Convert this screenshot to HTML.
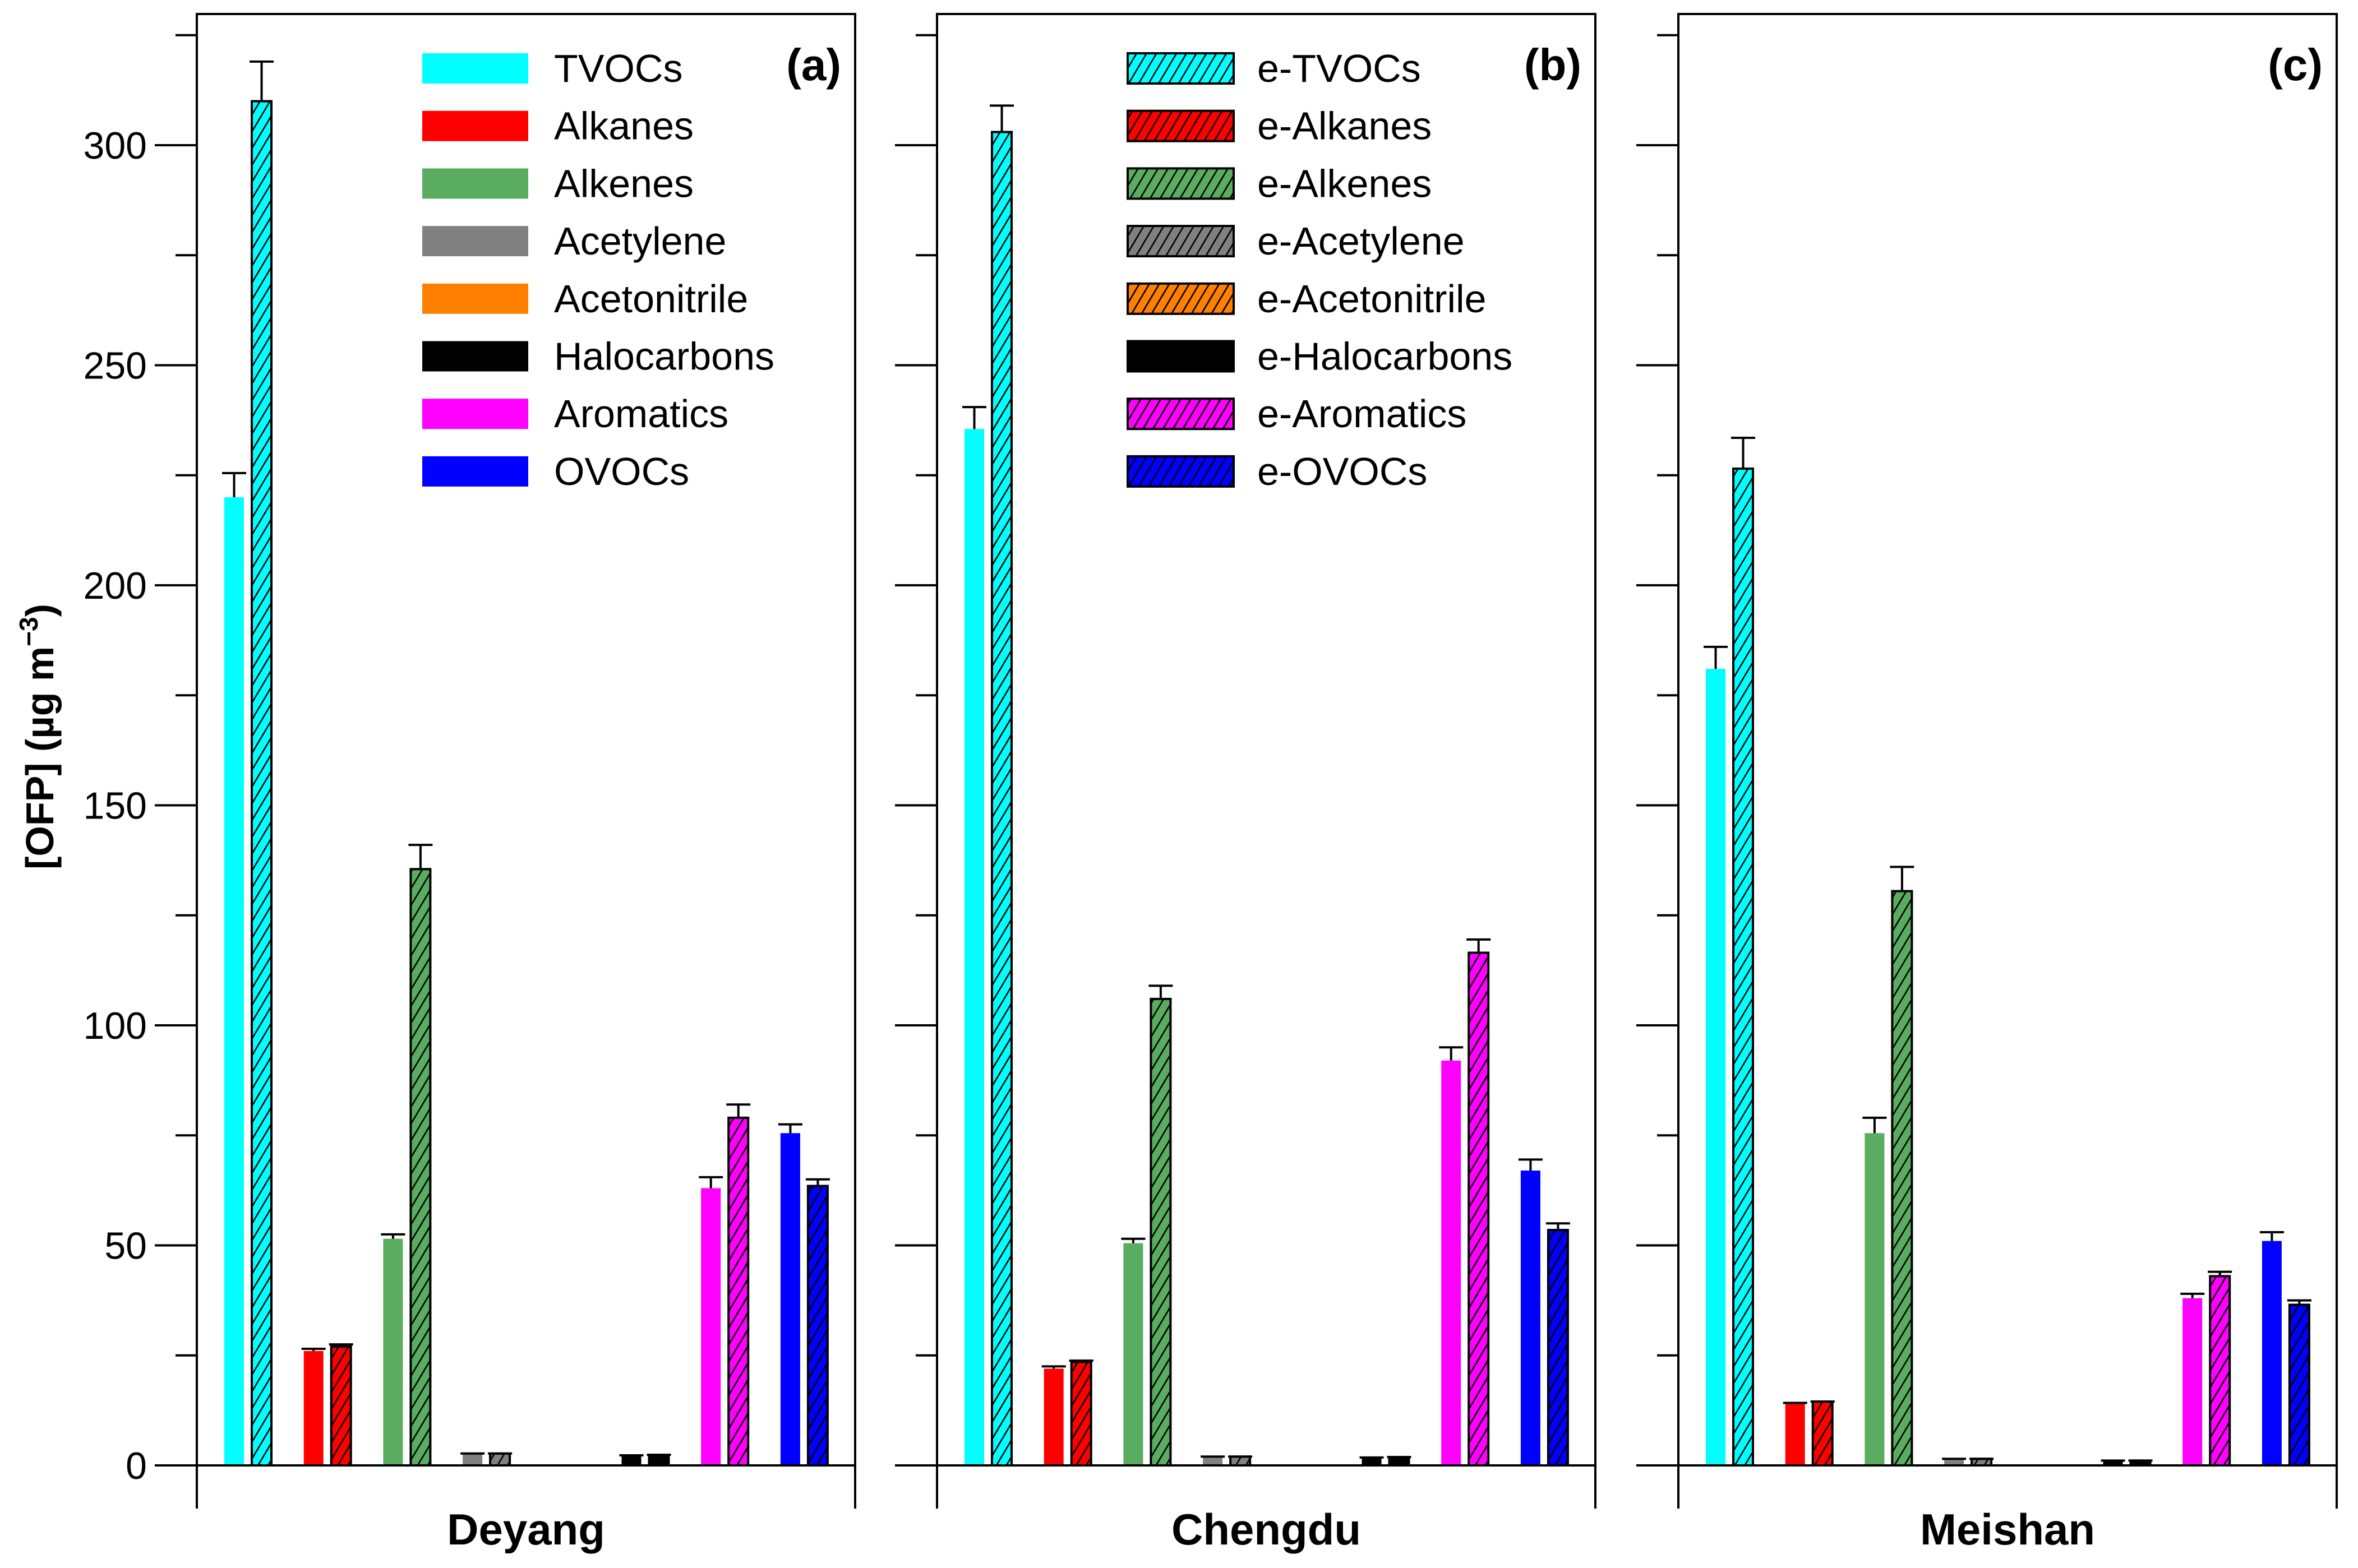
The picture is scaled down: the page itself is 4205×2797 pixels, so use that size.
<!DOCTYPE html>
<html><head><meta charset="utf-8"><style>
html,body{margin:0;padding:0;background:#fff}
svg{display:block}
text{font-family:"Liberation Sans",Arial,sans-serif}
</style></head><body>
<svg id="chart" xmlns="http://www.w3.org/2000/svg" width="4205" height="2797" viewBox="0 0 4205 2797">
<defs>
<pattern id="hatch" patternUnits="userSpaceOnUse" width="15.3" height="15.3" patternTransform="rotate(30.7)">
<line x1="1" y1="0" x2="1" y2="15.3" stroke="#000" stroke-width="3.2"/>
</pattern>
</defs>
<text transform="translate(95,1314) rotate(-90)" text-anchor="middle" font-weight="bold" font-size="70">[OFP] (µg m<tspan font-size="46" dy="-28">−3</tspan><tspan dy="28">)</tspan></text>
</svg>
<script>
const categories = ["TVOCs","Alkanes","Alkenes","Acetylene","Acetonitrile","Halocarbons","Aromatics","OVOCs"];
const colors = ["#00ffff","#ff0000","#5aad60","#808080","#ff8000","#000000","#ff00ff","#0000ff"];
const sites = ["Deyang","Chengdu","Meishan"];
const panelTags = ["(a)","(b)","(c)"];
const yTicks = [0,50,100,150,200,250,300];
// solid (measured) values and errors
const deyangVal = [220,26,51.5,2.7,0,2.3,63,75.5];
const deyangErr = [5.5,0.5,1,0,0,0,2.5,2];
const deyangEVal = [310,27,135.5,2.7,0,2.4,79,63.5];
const deyangEErr = [9,0.5,5.5,0,0,0,3,1.5];
const chengduVal = [235.5,22,50.5,2,0,1.8,92,67];
const chengduErr = [5,0.5,1,0,0,0,3,2.5];
const chengduEVal = [303,23.5,106,2,0,1.9,116.5,53.5];
const chengduEErr = [6,0.3,3,0,0,0,3,1.5];
const meishanVal = [181,14,75.5,1.5,0,1.1,38,51];
const meishanErr = [5,0.2,3.5,0,0,0,1,2];
const meishanEVal = [226.5,14.5,130.5,1.5,0,1.1,43,36.5];
const meishanEErr = [7,0,5.5,0,0,0,1,1];

const svgNS = "http://www.w3.org/2000/svg";
const svg = document.getElementById("chart");
const panelLeft = [351,1671,2993];
const panelW = 1174, topY = 25, zeroY = 2614, pxPerUnit = 7.85, bottomY = 2691;
const yScale = v => zeroY - v * pxPerUnit;
const xCenter = (p,i) => panelLeft[p] + 91 + i * 141.7;
function mk(tag, attrs, parent){
  const e = document.createElementNS(svgNS, tag);
  for (const k in attrs) e.setAttribute(k, attrs[k]);
  (parent||svg).appendChild(e);
  return e;
}
const allVal = [deyangVal, chengduVal, meishanVal];
const allErr = [deyangErr, chengduErr, meishanErr];
const allEVal = [deyangEVal, chengduEVal, meishanEVal];
const allEErr = [deyangEErr, chengduEErr, meishanEErr];

for (let p = 0; p < 3; p++){
  const g = mk("g", {});
  
  
  const L = panelLeft[p], R = L + panelW;
  // ticks
  for (let v = 0; v <= 325; v += 25){
    const major = v % 50 === 0;
    const t = mk("line", {x1: L - (major ? 75 : 38), x2: L, y1: yScale(v), y2: yScale(v), stroke:"#000","stroke-width":4}, g);
    
    
  }
  if (p === 0){
    yTicks.forEach(v => {
      const t = mk("text", {x: 262, y: yScale(v) + 24, "text-anchor":"end","font-size":68}, g);
      
      
      t.textContent = v;
    });
  }
  // bars
  for (let i = 0; i < categories.length; i++){
    const c = xCenter(p, i);
    const v1 = allVal[p][i], e1 = allErr[p][i], v2 = allEVal[p][i], e2 = allEErr[p][i];
    if (v1 > 0){
      const b = mk("rect", {x: c - 42, y: yScale(v1), width: 35, height: v1 * pxPerUnit, fill: colors[i]}, g);
      
      
      const eb = mk("path", {d: `M${c-24.5},${yScale(v1)} V${yScale(v1+e1)} M${c-46},${yScale(v1+e1)} H${c-3}`, stroke:"#000","stroke-width":4, fill:"none"}, g);
      
      
    }
    if (v2 > 0){
      const b = mk("rect", {x: c + 7, y: yScale(v2), width: 35, height: v2 * pxPerUnit, fill: colors[i]}, g);
      
      
      const h = mk("rect", {x: c + 7, y: yScale(v2), width: 35, height: v2 * pxPerUnit, fill: "url(#hatch)", stroke:"#000","stroke-width":4}, g);
      
      
      const eb = mk("path", {d: `M${c+24.5},${yScale(v2)} V${yScale(v2+e2)} M${c+3},${yScale(v2+e2)} H${c+46}`, stroke:"#000","stroke-width":4, fill:"none"}, g);
      
      
    }
  }
  // frame
  const fr = mk("path", {d: `M${L},${bottomY} V${topY} H${R} V${bottomY} M${L},${zeroY} H${R}`, stroke:"#000","stroke-width":4, fill:"none"}, g);
  
  
  const tag = mk("text", {x: R - 25, y: 143, "text-anchor":"end","font-size":80,"font-weight":"bold"}, g);
  
  
  tag.textContent = panelTags[p];
  const xl = mk("text", {x: L + panelW/2, y: 2755, "text-anchor":"middle","font-size":78,"font-weight":"bold"}, g);
  
  
  xl.textContent = sites[p];
}
// legends
const legendX = [753, 2011], textX = [988, 2242];
for (let l = 0; l < 2; l++){
  const lg = mk("g", {});
  
  
  for (let i = 0; i < categories.length; i++){
    const y = 95 + i * 102.7;
    const s = mk("rect", {x: legendX[l], y: y, width: 189, height: 54, fill: colors[i]}, lg);
    
    
    if (l === 1){
      const h = mk("rect", {x: legendX[l], y: y, width: 189, height: 54, fill: "url(#hatch)", stroke:"#000","stroke-width":4}, lg);
      
      
    }
    const t = mk("text", {x: textX[l], y: y + 51, "font-size":70}, lg);
    
    
    t.textContent = (l === 1 ? "e-" : "") + categories[i];
  }
}
</script>
</body></html>
